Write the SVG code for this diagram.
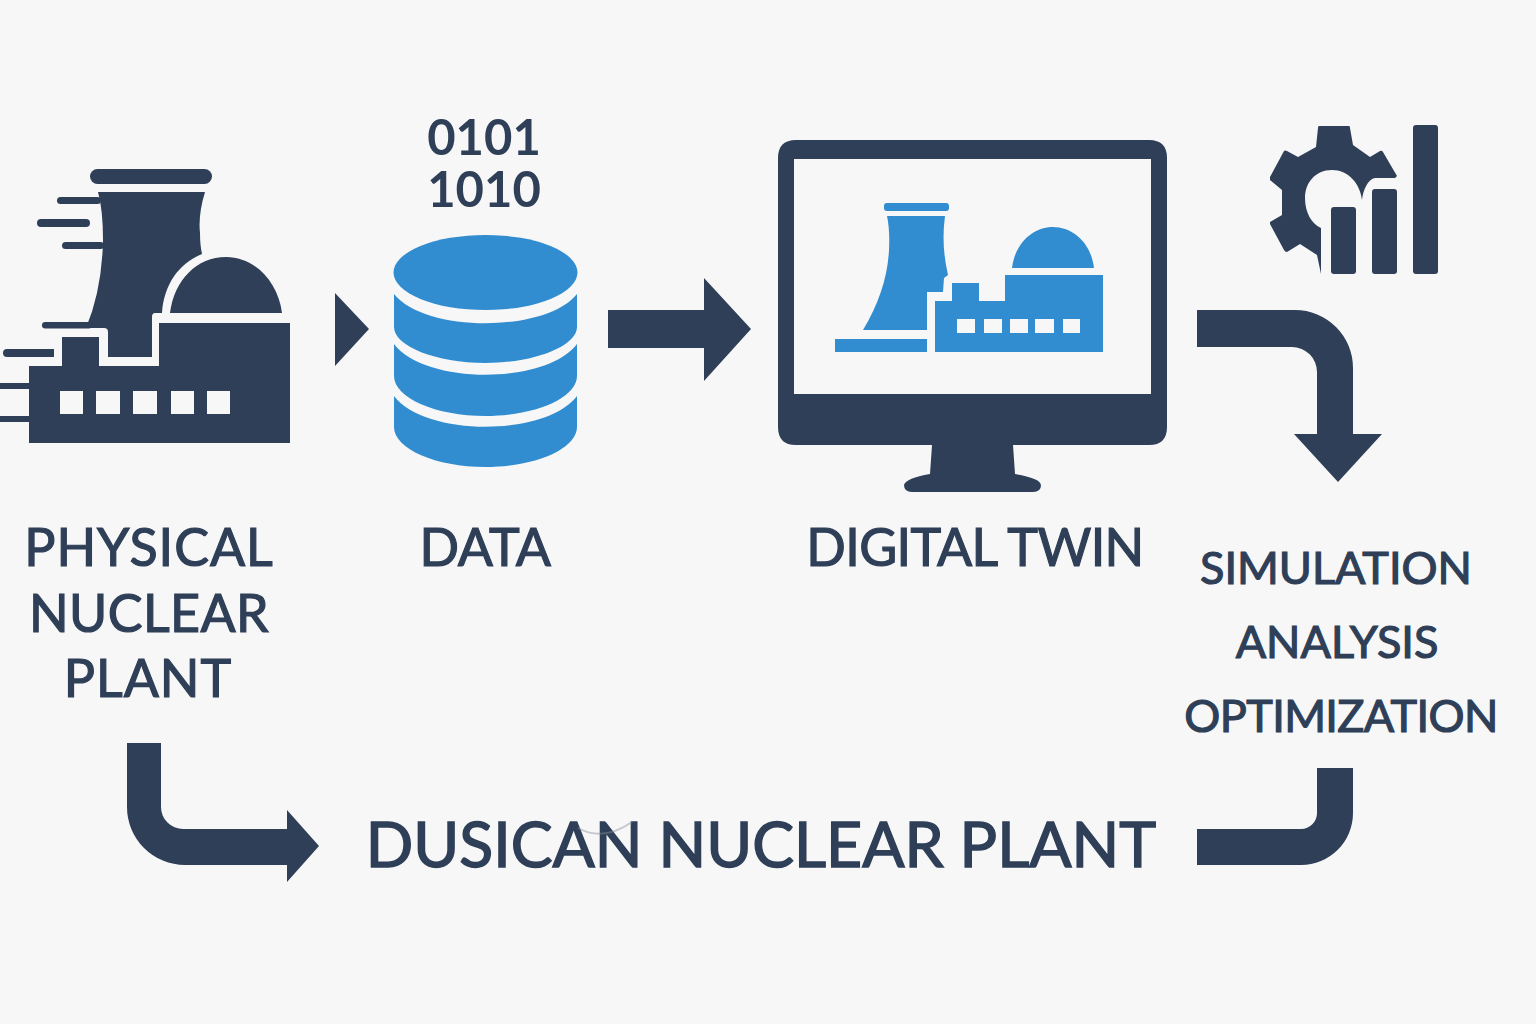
<svg xmlns="http://www.w3.org/2000/svg" width="1536" height="1024" viewBox="0 0 1536 1024">
<style>
.d{fill:#2e3f57}.b{fill:#328dd0}.w{fill:#f7f7f8}
text{font-family:Lato,"Noto Sans",sans-serif;font-weight:400;fill:#2e3f57;stroke:#2e3f57;stroke-width:1.200;text-anchor:middle}
.l{font-size:52px;letter-spacing:1px}.m{font-size:45px}
</style>
<rect width="1536" height="1024" class="w"/>
<g id="connectors" class="d">
<path id="a1" d="M335 293L369 329L335 366Z"/>
<path id="a2" d="M608 310H704V278L751 329L704 381V348H608Z"/>
<path id="a3" d="M1197 310H1295A58 58 0 0 1 1353 368V434H1382L1338 482L1294 434H1317V372A25 25 0 0 0 1292 347H1197Z"/>
<path id="a4" d="M127 743H161V807A22 22 0 0 0 183 829H287V810L319 846L287 882V865H185A58 58 0 0 1 127 807Z"/>
<path id="a5" d="M1317 768H1353V813A52 52 0 0 1 1301 865H1197V829H1301A16 16 0 0 0 1317 813Z"/>
</g>
<g id="plant" class="d">
<rect x="90" y="169" width="122" height="15" rx="7.500"/>
<path d="M98 192H205Q198 215 200 233Q200 245 202 254C178 264 164 285 162 313H155Q152 313 152 317V357H108V332Q108 328 104 328H86Q102 290 103 240Q103 210 98 192Z"/>
<rect x="57" y="197" width="44" height="7" rx="3.500"/>
<rect x="37" y="219" width="53" height="8" rx="4"/>
<rect x="62" y="242" width="42" height="7" rx="3.500"/>
<rect x="42" y="322" width="50" height="6.500" rx="3.200"/>
<path d="M7 349H54V357H7a4 4 0 0 1 0-8Z"/>
<rect x="0" y="383" width="30" height="6"/>
<rect x="0" y="416" width="30" height="6"/>
<path d="M170 313C174 280 197 257 226 257C255 257 278 282 282 313Z"/>
<path fill-rule="evenodd" d="M29 366H62V337H99V366H159V323H290V443H29ZM60 391V414H83V391ZM96 391V414H120V391ZM133 391V414H157V391ZM171 391V414H194V391ZM207 391V414H230V391Z"/>
</g>
<g id="data">
<text style="font-size:49px;font-weight:700;stroke-width:0"><tspan x="484" y="155">0101</tspan><tspan x="484" y="207">1010</tspan></text>
<g class="b">
<ellipse cx="485.500" cy="272.500" rx="92" ry="37.500"/>
<path d="M394 294C425 333 546 333 577 294V327C577 346 535 363 485.500 363C436 363 394 346 394 327Z"/>
<path d="M394 344C425 385 546 385 577 344V376C577 398 535 416 485.500 416C436 416 394 398 394 376Z"/>
<path d="M394 396C425 437 546 437 577 396V427C577 449 535 467 485.500 467C436 467 394 449 394 427Z"/>
</g>
</g>
<g id="twin">
<path class="d" d="M796 140H1149Q1167 140 1167 158V427Q1167 445 1149 445H1013L1015 474Q1040 478 1041 485Q1041 492 1033 492H912Q904 492 904 485Q906 478 930 474L932 445H796Q778 445 778 427V158Q778 140 796 140Z"/>
<rect x="794" y="159" width="357" height="235" class="w"/>
<g class="b">
<rect x="884" y="203" width="65" height="8" rx="3"/>
<path d="M887 216H945Q941 245 948 275L944 278L943 292H927V330H863Q887 290 889 250Q890 230 887 216Z"/>
<rect x="835" y="339" width="92" height="13"/>
<path d="M1012 268C1015 243 1033 227 1053 227C1073 227 1091 243 1094 268Z"/>
<path fill-rule="evenodd" d="M935 301H952V283H979V301H1005V275H1103V352H935ZM957 319V333H975V319ZM984 319V333H1002V319ZM1010 319V333H1028V319ZM1035 319V333H1054V319ZM1063 319V333H1080V319Z"/>
</g>
</g>
<g id="analysis" class="d">
<path d="M1319 126H1349Q1350 126 1350 128L1353 145L1370 157L1380 151Q1382 150 1383 152L1397 176L1395 178H1375C1368 179 1363 190 1362 200C1360 183 1348 170 1332 170C1315 170 1305 183 1305 198C1305 213 1312 224 1321 228V274L1317 255L1300 244L1287 252Q1285 252 1284 250L1270 224V222L1282 215V190L1270 180V177L1284 151Q1285 150 1287 151L1298 157L1316 147L1318 128Q1318 126 1319 126Z"/>
<rect x="1331" y="207" width="25" height="67" rx="3"/>
<rect x="1372" y="189" width="25" height="85" rx="3"/>
<rect x="1413" y="125" width="25" height="149" rx="3"/>
</g>
<g id="labels">
<text class="l" x="149" y="566">PHYSICAL</text>
<text class="l" x="149" y="632" style="letter-spacing:.4px">NUCLEAR</text>
<text class="l" x="148" y="697">PLANT</text>
<text class="l" x="485" y="566" style="letter-spacing:-.3px">DATA</text>
<text class="l" x="975" y="566" style="letter-spacing:-.6px">DIGITAL TWIN</text>
<text class="m" x="1336" y="584">SIMULATION</text>
<text class="m" x="1337" y="658">ANALYSIS</text>
<text class="m" x="1341" y="732" style="letter-spacing:-.6px">OPTIMIZATION</text>
<text x="761" y="867" style="font-size:62.500px;stroke-width:1.500">DUSICAN NUCLEAR PLANT</text>
<path d="M578 828Q603 842 632 822" fill="none" stroke="#8a8f96" stroke-width="2" opacity=".45"/>
</g>
</svg>
